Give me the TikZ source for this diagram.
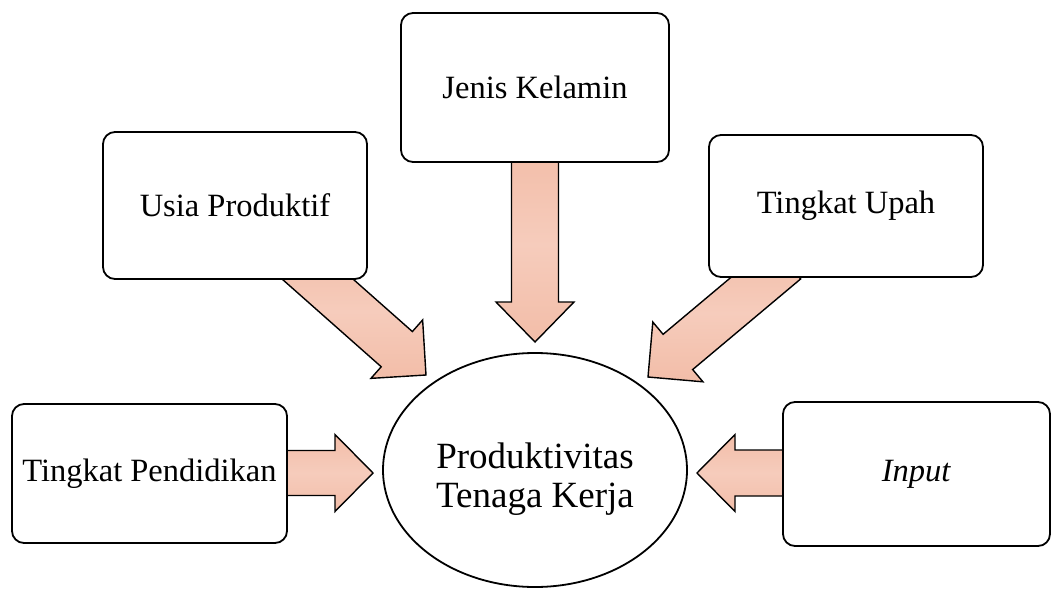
\documentclass[tikz,border=0pt]{standalone}
\usepackage{fontspec}
\setmainfont{Liberation Serif}
\usetikzlibrary{shapes.geometric}
\definecolor{arrowc}{RGB}{242,189,168}
\definecolor{arrowlt}{RGB}{246,204,188}
\tikzset{
  box/.style={draw=black, line width=1.8pt, fill=white, rounded corners=12pt, inner sep=0pt,
    font=\fontsize{32.5}{38}\selectfont},
  fatshape/.style={draw=black, line width=1.4pt, line join=miter,
    top color=arrowc, bottom color=arrowc, middle color=arrowlt},
}
% \fatarrow{name}{tip coordinate}{angle}{length}{shaft half}{head half}{head length}
\newcommand\fatarrow[7]{%
  \begin{scope}[shift={#2}, rotate=#3]
    \coordinate (#1) at (0,0);
    \path[fatshape] (0,0) -- (-#7,#6) -- (-#7,#5) -- (-#4,#5) -- (-#4,-#5)
      -- (-#7,-#5) -- (-#7,-#6) -- cycle;
  \end{scope}}
\begin{document}
\begin{tikzpicture}[x=1pt,y=-1pt]
\useasboundingbox (0,0) rectangle (1052,589);
% arrows (drawn first, boxes cover their tails)
\fatarrow{aPend}{(373,473)}{0}{103}{22.5}{38.5}{38}
\fatarrow{aInput}{(697,473)}{180}{103}{23}{38.5}{38}
\fatarrow{aJenis}{(535,342)}{-90}{195}{23.5}{39}{40}
\fatarrow{aUsia}{(426,375)}{-41.5}{170}{23.5}{39}{39}
\fatarrow{aUpah}{(648,377)}{-140}{180}{23}{39}{39}
% boxes
\node[box,minimum width=275pt,minimum height=139pt] (pend) at (149.5,473.5) {Tingkat Pendidikan};
\node[box,minimum width=264pt,minimum height=147pt] (usia) at (235,205.5) {Usia Produktif};
\node[box,minimum width=268pt,minimum height=149pt] (jenis) at (535,87.5) {Jenis Kelamin};
\node[box,minimum width=274pt,minimum height=142pt] (upah) at (846,206) {Tingkat Upah};
\node[box,minimum width=267pt,minimum height=144pt] (input) at (916.5,474) {\textit{Input}};
% ellipse
\node[draw=black, line width=1.8pt, fill=white, ellipse, minimum width=304pt, minimum height=234pt,
  inner sep=0pt] (prod) at (535,470) {};
\node[align=center, inner sep=0pt, font=\fontsize{37}{39}\selectfont] (prodtext) at (535,479)
  {Produktivitas\\Tenaga Kerja};
\end{tikzpicture}
\end{document}
